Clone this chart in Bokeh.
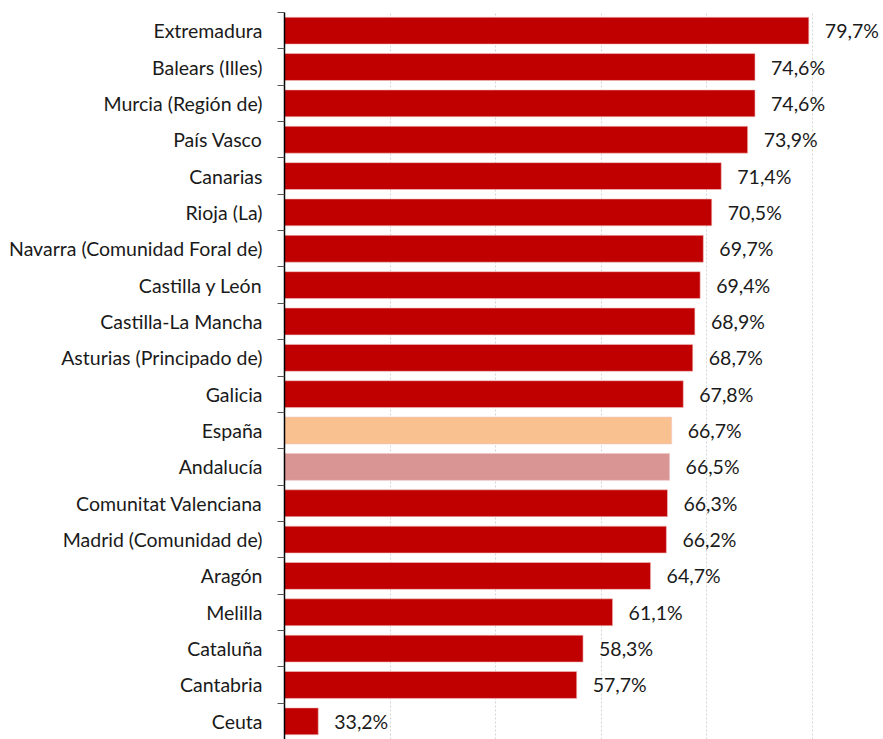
from bokeh.plotting import figure
from bokeh.models import ColumnDataSource, FixedTicker, Range1d
from bokeh.core.properties import value
from bokeh.embed import file_html
from bokeh.resources import INLINE

regions = ["Extremadura", "Balears (Illes)", "Murcia (Región de)", "País Vasco", "Canarias",
           "Rioja (La)", "Navarra (Comunidad Foral de)", "Castilla y León", "Castilla-La Mancha",
           "Asturias (Principado de)", "Galicia", "España", "Andalucía", "Comunitat Valenciana",
           "Madrid (Comunidad de)", "Aragón", "Melilla", "Cataluña", "Cantabria", "Ceuta"]
values = [79.7, 74.6, 74.6, 73.9, 71.4, 70.5, 69.7, 69.4, 68.9, 68.7, 67.8, 66.7, 66.5,
          66.3, 66.2, 64.7, 61.1, 58.3, 57.7, 33.2]
labels = ["79,7%", "74,6%", "74,6%", "73,9%", "71,4%", "70,5%", "69,7%", "69,4%", "68,9%",
          "68,7%", "67,8%", "66,7%", "66,5%", "66,3%", "66,2%", "64,7%", "61,1%", "58,3%",
          "57,7%", "33,2%"]
grid_ticks = [40, 50, 60, 70, 80]

RED = "#C00000"
colors = []
for r in regions:
    if r == "España":
        colors.append("#F9C18F")
    elif r == "Andalucía":
        colors.append("#D99594")
    else:
        colors.append(RED)

n = len(regions)
ypos = [n - 1 - i for i in range(n)]
src = ColumnDataSource(dict(y=ypos, v=values, lab=labels, c=colors, left=[30] * n))

p = figure(width=883, height=739, output_backend="svg", toolbar_location=None,
           x_range=Range1d(30, 30 + 599 / 10.55), y_range=Range1d(-0.5, n - 0.5),
           min_border_left=284, min_border_right=0, min_border_top=12, min_border_bottom=0)
p.outline_line_color = None

p.hbar(y="y", left="left", right="v", height=0.74, fill_color="c", line_color="#f2c4c4",
       line_width=0.6, source=src)
p.text(x="v", y="y", text="lab", source=src, x_offset=16, text_baseline="middle",
       text_align="left", text_font=value("Lato"), text_font_size="19.5px", text_color="#1a1a1a")

p.xaxis.visible = False
p.xgrid.ticker = FixedTicker(ticks=grid_ticks)
p.xgrid.grid_line_color = "#d4d4d4"
p.xgrid.grid_line_dash = "2 2"
p.ygrid.grid_line_color = None

ax = p.yaxis[0]
ax.ticker = FixedTicker(ticks=ypos, minor_ticks=[k + 0.5 for k in range(-1, n)])
ax.major_label_overrides = {y: r for y, r in zip(ypos, regions)}
ax.major_tick_out = 0
ax.major_tick_in = 0
ax.minor_tick_out = 7
ax.minor_tick_in = 0
ax.minor_tick_line_color = "#555555"
ax.axis_line_color = "#000000"
ax.axis_line_width = 1.5
ax.major_label_standoff = 15
ax.major_label_text_font = "Lato"
ax.major_label_text_font_size = "19.5px"
ax.major_label_text_color = "#1a1a1a"

open("out.html", "w").write(file_html(p, INLINE))
